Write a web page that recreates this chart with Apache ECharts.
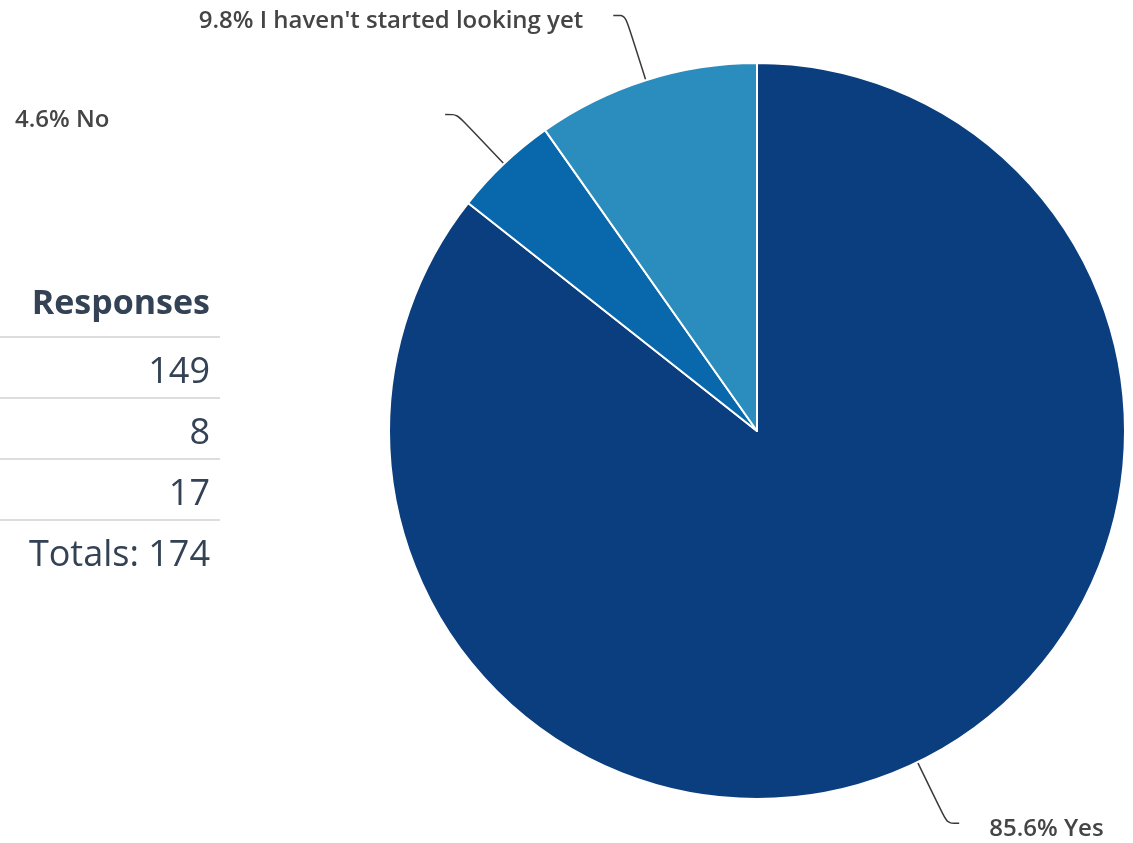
<!DOCTYPE html>
<html>
<head>
<meta charset="utf-8">
<script src="https://cdn.jsdelivr.net/npm/echarts@6/dist/echarts.min.js"></script>
<style>
html,body{margin:0;padding:0;background:#fff;}
#chart{width:1133px;height:843px;}
</style>
</head>
<body>
<div id="chart"></div>
<script>
const categories = ["Yes", "No", "I haven't started looking yet"];
const responses = [149, 8, 17];
const tableHeader = "Responses";
const totalsLabel = "Totals: ";
const sliceColors = ["#0a3e7e", "#0868ab", "#2b8cbe"];

const chart = echarts.init(document.getElementById('chart'));
const total = responses.reduce((a, b) => a + b, 0);

const tableFont = '"Open Sans", Lato, sans-serif';
const textColor = '#344255';
const rowTop = 337, rowH = 61, tableRight = 210, tableWidth = 220;

const graphics = [];
graphics.push({
  type: 'text', x: tableRight, y: 304,
  style: { text: tableHeader, align: 'right', verticalAlign: 'middle',
    font: 'bold 34px ' + tableFont, fill: textColor }
});
const rows = responses.map(String).concat([totalsLabel + total]);
rows.forEach((t, i) => {
  graphics.push({
    type: 'line',
    shape: { x1: 0, y1: rowTop + i * rowH, x2: tableWidth, y2: rowTop + i * rowH },
    style: { stroke: '#dddddd', lineWidth: 2 }
  });
  graphics.push({
    type: 'text', x: tableRight, y: rowTop + i * rowH + rowH / 2 + 5,
    style: { text: t, align: 'right', verticalAlign: 'middle',
      font: '36px ' + tableFont, fill: textColor }
  });
});

chart.setOption({
  animation: false,
  backgroundColor: '#ffffff',
  graphic: graphics,
  series: [{
    type: 'pie',
    center: [757, 431],
    radius: 368,
    startAngle: 90,
    clockwise: true,
    percentPrecision: 1,
    avoidLabelOverlap: false,
    itemStyle: { borderColor: '#ffffff', borderWidth: 2 },
    label: {
      show: true,
      formatter: '{d}% {b}',
      fontFamily: '"Open Sans", Lato, sans-serif',
      fontWeight: 600,
      fontSize: 24,
      color: '#454545',
      distanceToLabelLine: 30
    },
    labelLine: {
      show: true,
      length: 68,
      length2: 12,
      smooth: 0.3,
      lineStyle: { color: '#3a3a3a', width: 1.5 }
    },
    labelLayout: function (p) {
      if (p.dataIndex === 1) {
        return { x: 15, dy: 6, align: 'left', labelLinePoints: p.labelLinePoints };
      }
      return { dy: 6, labelLinePoints: p.labelLinePoints };
    },
    data: categories.map((c, i) => ({
      name: c, value: responses[i], itemStyle: { color: sliceColors[i] }
    }))
  }]
});
</script>
</body>
</html>
